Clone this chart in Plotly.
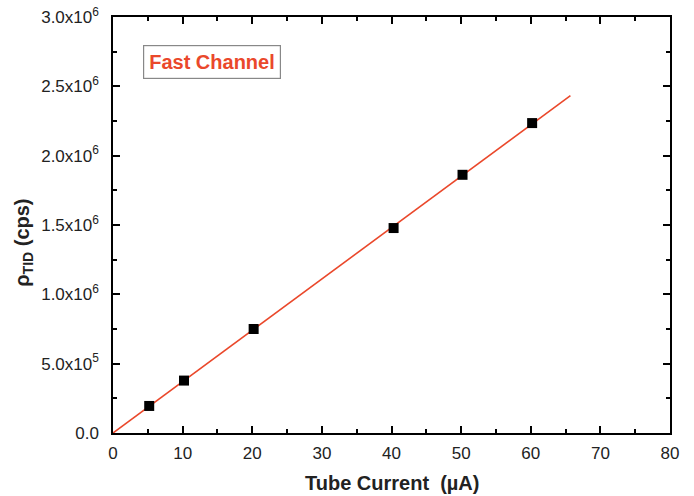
import numpy as np
import plotly.graph_objects as go

current_uA = [5.2, 10.2, 20.2, 40.3, 50.2, 60.2]
rate_cps = [195000, 378000, 750000, 1478000, 1862000, 2235000]
fit_range = [0, 65.7]

x = np.array(current_uA)
y = np.array(rate_cps)
slope = float(np.sum(x * y) / np.sum(x * x))
fx = np.array(fit_range)
fy = slope * fx

x_ticks = list(range(0, 81, 10))
y_ticks = [0, 500000, 1000000, 1500000, 2000000, 2500000, 3000000]
y_labels = ["0.0", "5.0x10<sup>5</sup>", "1.0x10<sup>6</sup>", "1.5x10<sup>6</sup>",
            "2.0x10<sup>6</sup>", "2.5x10<sup>6</sup>", "3.0x10<sup>6</sup>"]

red = "#EA482B"
font = "Liberation Sans, Arial, sans-serif"

fig = go.Figure()
fig.add_trace(go.Scatter(x=fx, y=fy, mode="lines", line=dict(color=red, width=1.6),
                         showlegend=False, hoverinfo="skip"))
fig.add_trace(go.Scatter(x=x, y=y, mode="markers",
                         marker=dict(symbol="square", size=10, color="black"),
                         showlegend=False))

axis_common = dict(showgrid=False, zeroline=False, showline=True, linecolor="black",
                   linewidth=1.5, mirror="ticks", ticks="inside", tickcolor="black",
                   tickwidth=1.5, ticklen=7, automargin=False,
                   tickfont=dict(family=font, size=17, color="#222"))

fig.update_xaxes(range=[0, 80], tickvals=x_ticks, ticktext=[str(v) for v in x_ticks],
                 ticklabelstandoff=4,
                 minor=dict(dtick=5, tick0=0, ticks="inside", ticklen=4, tickcolor="black", tickwidth=1.5),
                 **axis_common)
fig.update_yaxes(range=[0, 3000000], tickvals=y_ticks, ticktext=y_labels,
                 ticklabelstandoff=9,
                 minor=dict(dtick=250000, tick0=0, ticks="inside", ticklen=4, tickcolor="black", tickwidth=1.5),
                 **axis_common)

fig.add_annotation(x=0.5, y=-0.12, xref="paper", yref="paper", xanchor="center", yanchor="middle",
                   text="<b>Tube Current  (\u00b5A)</b>", showarrow=False,
                   font=dict(family=font, size=20, color="#222"))

fig.add_annotation(x=-0.16, y=0.457, xref="paper", yref="paper", xanchor="center", yanchor="middle",
                   text="<b>\u03c1<sub>TID</sub> (cps)</b>", textangle=-90, showarrow=False,
                   font=dict(family=font, size=20, color="#222"))

fig.add_annotation(x=0.054, y=0.933, xref="paper", yref="paper", xanchor="left", yanchor="top",
                   text="<b>Fast Channel</b>", showarrow=False,
                   font=dict(family=font, size=20, color=red),
                   bordercolor="#888", borderwidth=1.2, borderpad=5, bgcolor="white")

fig.update_layout(width=694, height=496, margin=dict(l=113, r=24, t=17, b=63),
                  plot_bgcolor="white", paper_bgcolor="white")

fig.write_html("out.html")
